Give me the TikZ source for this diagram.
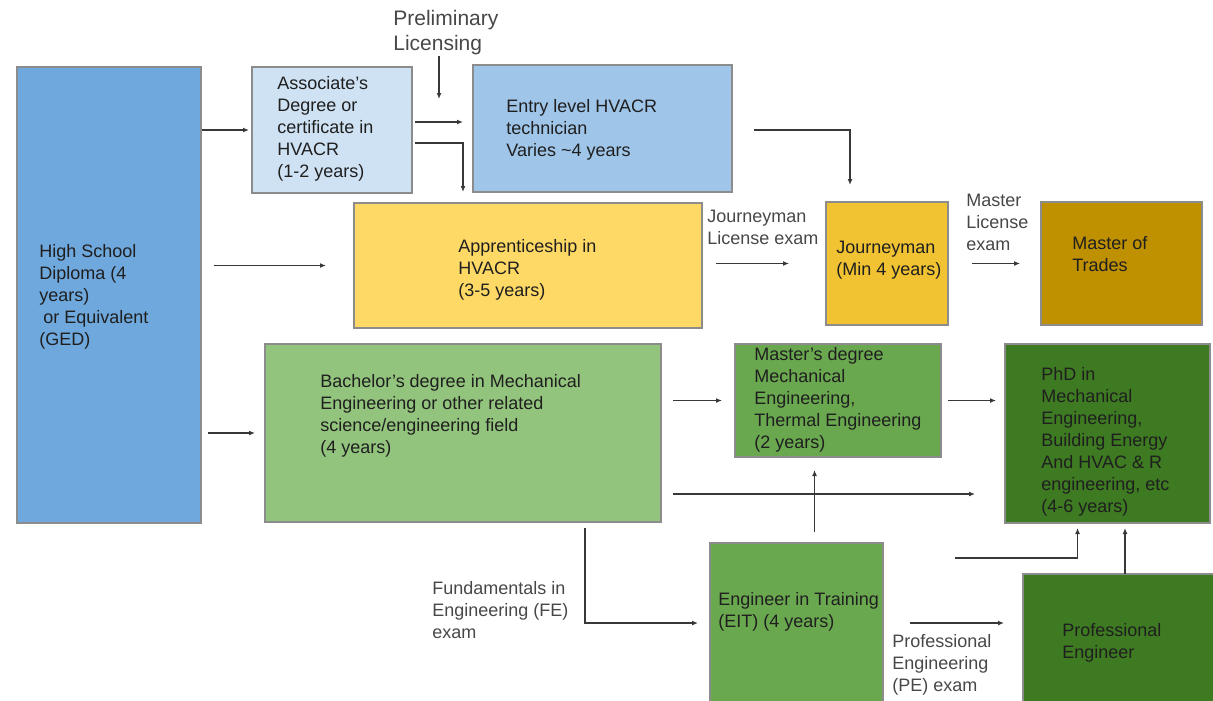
\documentclass[tikz,border=0pt]{standalone}
\usepackage{fontspec}
\setmainfont{Liberation Sans}
\usetikzlibrary{arrows.meta}

\definecolor{hsblue}{HTML}{6FA8DC}
\definecolor{assocblue}{HTML}{CFE2F3}
\definecolor{entryblue}{HTML}{9FC5E8}
\definecolor{apprgold}{HTML}{FFD966}
\definecolor{journgold}{HTML}{F1C232}
\definecolor{mastergold}{HTML}{BF9000}
\definecolor{bachgreen}{HTML}{93C47D}
\definecolor{midgreen}{HTML}{6AA84F}
\definecolor{darkgreen}{HTML}{3D7A21}

\tikzset{every picture/.style={line width=0.75pt}}

\begin{document}
\begin{tikzpicture}[x=1pt,y=1pt,yscale=-1,
    box/.style={draw=black!45, line width=1.1pt, anchor=north west, inner sep=0pt, outer sep=0pt},
    txt/.style={anchor=west, align=left, inner sep=0pt, text=black!88, font=\fontsize{18}{22}\selectfont},
    lbl/.style={anchor=west, align=left, inner sep=0pt, text=black!72, font=\fontsize{18}{22}\selectfont},
    arr/.style={draw=black!78, line width=1.3pt, -{Latex[length=6pt,width=5pt]}}]
        \useasboundingbox (0,0) rectangle (1213,701);
        \clip (0,0) rectangle (1213,701);

        % boxes
        \node[box, fill=hsblue, minimum width=184pt, minimum height=456pt] (hs) at (17,67) {};
        \node[box, fill=assocblue, minimum width=160pt, minimum height=126pt] (assoc) at (252,67) {};
        \node[box, fill=entryblue, minimum width=259pt, minimum height=127pt] (entry) at (473,65) {};
        \node[box, fill=apprgold, minimum width=348pt, minimum height=125pt] (appr) at (354,203) {};
        \node[box, fill=journgold, minimum width=122pt, minimum height=123pt] (journ) at (826,202) {};
        \node[box, fill=mastergold, minimum width=161pt, minimum height=123pt] (trades) at (1041,202) {};
        \node[box, fill=bachgreen, minimum width=396pt, minimum height=178pt] (bach) at (265,344) {};
        \node[box, fill=midgreen, minimum width=206pt, minimum height=113pt] (mast) at (735,344) {};
        \node[box, fill=darkgreen, minimum width=205pt, minimum height=179pt] (phd) at (1005,344) {};
        \node[box, fill=midgreen, minimum width=173pt, minimum height=160pt] (eit) at (710,543) {};
        \node[box, fill=darkgreen, minimum width=194pt, minimum height=132pt] (pe) at (1023,574) {};

        % box texts
        \node[txt] (hs-t) at (39,297) {High School\\Diploma (4\\years)\\\hspace*{4pt}or Equivalent\\(GED)};
        \node[txt] (assoc-t) at (277,128.5) {Associate's\\Degree or\\certificate in\\HVACR\\(1-2 years)};
        \node[txt] (entry-t) at (506,129.5) {Entry level HVACR\\technician\\Varies \textasciitilde4 years};
        \node[txt] (appr-t) at (458,270) {Apprenticeship in\\HVACR\\(3-5 years)};
        \node[txt] (journ-t) at (836,260) {Journeyman\\(Min 4 years)};
        \node[txt] (trades-t) at (1072,254) {Master of\\Trades};
        \node[txt] (bach-t) at (320,416) {Bachelor's degree in Mechanical\\Engineering or other related\\science/engineering field\\(4 years)};
        \node[txt] (mast-t) at (754,400) {Master's degree\\Mechanical\\Engineering,\\Thermal Engineering\\(2 years)};
        \node[txt] (phd-t) at (1041,442) {PhD in\\Mechanical\\Engineering,\\Building Energy\\And HVAC \& R\\engineering, etc\\(4-6 years)};
        \node[txt] (eit-t) at (718,612) {Engineer in Training\\(EIT) (4 years)};
        \node[txt] (pe-t) at (1062,643) {Professional\\Engineer};

        % exam labels
        \node[lbl, font=\fontsize{21}{25}\selectfont] (prelim) at (393,33) {Preliminary\\Licensing};
        \node[lbl] (jexam) at (707,227) {Journeyman\\License exam};
        \node[lbl] (mexam) at (966,222) {Master\\License\\exam};
        \node[lbl] (feexam) at (432,610) {Fundamentals in\\Engineering (FE)\\exam};
        \node[lbl] (peexam) at (892,665) {Professional\\Engineering\\(PE) exam};

        % connectors
        \coordinate (lic) at (439,99);
        \coordinate (bp) at ([yshift=61pt]bach.east);
        \draw[arr, shorten <=1pt, shorten >=3pt] (hs.east |- assoc.west) -- (assoc.west);
        \draw[arr] (prelim.south -| lic) -- (lic);
        \draw[arr] ([shift={(3,-8)}]assoc.east) -- ++(48,0);
        \draw[arr] ([shift={(3,13)}]assoc.east) -- ++(48,0) -- ++(0,49);
        \draw[arr] ([shift={(22,1.5)}]entry.east) -- ++(96,0) -- ++(0,55);
        \draw[arr, shorten <=13pt, shorten >=28pt] (hs.east |- appr.west) -- (appr.west);
        \draw[arr, shorten <=14pt, shorten >=37pt] (appr.east |- journ.west) -- (journ.west);
        \draw[arr, shorten <=24pt, shorten >=21pt] (journ.east) -- (trades.west);
        \draw[arr, shorten <=7pt, shorten >=10pt] (hs.east |- bach.west) -- (bach.west);
        \draw[arr, shorten <=12pt, shorten >=13pt] (bach.east |- mast.west) -- (mast.west);
        \draw[arr, shorten <=7pt, shorten >=9pt] (mast.east) -- (mast.east -| phd.west);
        \draw[arr, shorten <=12pt, shorten >=30pt] (bp) -- (bp -| phd.west);
        \draw[arr] ([shift={(18,-11)}]eit.north) -- ++(0,-62);
        \draw[arr, shorten >=12pt] ([shift={(122,6)}]bach.south) |- (eit.west);
        \draw[arr, shorten <=27pt, shorten >=19pt] (eit.east) -- (eit.east -| pe.west);
        \draw[arr, shorten >=5pt] ([shift={(72,-65)}]eit.east) -| ([xshift=-30pt]phd.south);
        \draw[arr] ([xshift=5pt]pe.north) -- ++(0,-46);
\end{tikzpicture}
\end{document}
